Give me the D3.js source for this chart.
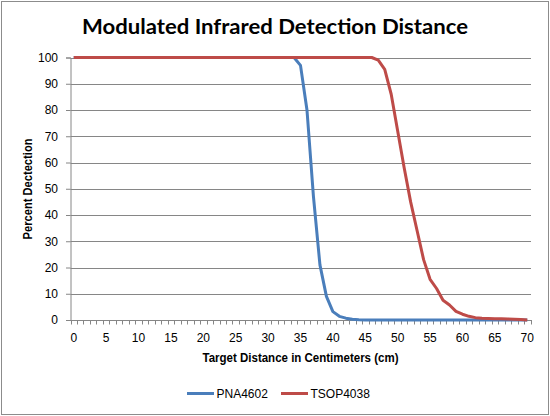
<!DOCTYPE html>
<html>
<head>
<meta charset="utf-8">
<script src="https://cdn.jsdelivr.net/npm/d3@7"></script>
<style>
  body { margin: 0; background: #fff; }
  svg { display: block; font-family: "Liberation Sans", Arial, sans-serif; }
</style>
</head>
<body>
<svg id="chart" width="550" height="416"></svg>
<script>
// distance in cm (category axis)
var distance = [0,1,2,3,4,5,6,7,8,9,10,11,12,13,14,15,16,17,18,19,20,21,22,23,24,25,26,27,28,29,
  30,31,32,33,34,35,36,37,38,39,40,41,42,43,44,45,46,47,48,49,50,51,52,53,54,55,56,57,58,59,
  60,61,62,63,64,65,66,67,68,69,70];

var pna4602 = [100,100,100,100,100,100,100,100,100,100,100,100,100,100,100,100,100,100,100,100,
  100,100,100,100,100,100,100,100,100,100,100,100,100,100,100,97,80,47,21,9,
  3.2,1.4,0.7,0.3,0.1,0,0,0,0,0,0,0,0,0,0,0,0,0,0,0,
  0,0,0,0,0,0,0,0,0,0,0];

var tsop4038 = [100,100,100,100,100,100,100,100,100,100,100,100,100,100,100,100,100,100,100,100,
  100,100,100,100,100,100,100,100,100,100,100,100,100,100,100,100,100,100,100,100,
  100,100,100,100,100,100,100,99,95.5,86,72,58,45,34,23,15.5,12,7.5,5.7,3.3,
  2.2,1.4,0.9,0.7,0.6,0.5,0.5,0.4,0.3,0.2,0];

var seriesNames = ["PNA4602", "TSOP4038"];
var seriesColors = {"PNA4602": "#4a7ebb", "TSOP4038": "#be4b48"};
var yTicks = [0,10,20,30,40,50,60,70,80,90,100];
var xLabels = [0,5,10,15,20,25,30,35,40,45,50,55,60,65,70];

var gridColor = "#868686";
var plotLeft = 70.5, plotRight = 530.5, plotTop = 57.5, plotBottom = 320;

var svg = d3.select("#chart");

// outer chart border
svg.append("rect").attr("x", 1.5).attr("y", 1.5).attr("width", 547).attr("height", 413)
  .style("fill", "white").style("stroke", "#8c8c8c");

svg.append("text").text("Modulated Infrared Detection Distance")
  .attr("x", 275).attr("y", 34).attr("text-anchor", "middle")
  .style("font-family", "Lato, 'Liberation Sans', sans-serif")
  .style("font-weight", "bold").style("font-size", "21px")
  .attr("textLength", 386).attr("lengthAdjust", "spacingAndGlyphs");

var xBand = d3.scaleBand().domain(distance).range([plotLeft, plotRight]);
var x = function (d) { return xBand(d) + xBand.bandwidth() / 2; };
var y = d3.scaleLinear().domain([0, 100]).range([plotBottom, plotTop]);

// gridlines
svg.append("g").selectAll("line").data(yTicks.filter(function (d) { return d > 0; }))
  .enter().append("line")
  .attr("x1", plotLeft).attr("x2", plotRight + 0.5)
  .attr("y1", function (d) { return Math.round(y(d)) + 0.5; })
  .attr("y2", function (d) { return Math.round(y(d)) + 0.5; })
  .style("stroke", gridColor);

// y axis
var yAxis = svg.append("g").attr("transform", "translate(" + plotLeft + ",0)")
  .call(d3.axisLeft(y).tickValues(yTicks).tickSize(4.5).tickPadding(8));
yAxis.select(".domain").style("stroke", gridColor);
yAxis.selectAll(".tick line").style("stroke", gridColor);
yAxis.selectAll(".tick text").style("font-size", "12px").style("fill", "#000")
  .style("font-family", "'Liberation Sans', Arial, sans-serif");

// x axis: minor ticks on category boundaries
var bounds = distance.map(function (d) { return xBand(d); }).concat([plotRight]);
svg.append("g").selectAll("line").data(bounds).enter().append("line")
  .attr("x1", function (d) { return Math.round(d) + 0.5; })
  .attr("x2", function (d) { return Math.round(d) + 0.5; })
  .attr("y1", plotBottom).attr("y2", plotBottom + 4.5)
  .style("stroke", gridColor);

var xAxis = svg.append("g").attr("transform", "translate(0," + plotBottom + ")")
  .call(d3.axisBottom(xBand).tickValues(xLabels).tickSize(0).tickPadding(13.5));
xAxis.select(".domain").remove();
xAxis.selectAll(".tick text").style("font-size", "12px").style("fill", "#000")
  .style("font-family", "'Liberation Sans', Arial, sans-serif");

svg.append("line").attr("x1", plotLeft).attr("x2", plotRight + 0.5)
  .attr("y1", plotBottom + 0.5).attr("y2", plotBottom + 0.5).style("stroke", gridColor);

// axis titles
svg.append("text").text("Target Distance in Centimeters (cm)")
  .attr("x", 300.5).attr("y", 361.5).attr("text-anchor", "middle")
  .style("font-weight", "bold").style("font-size", "12px")
  .attr("textLength", 196).attr("lengthAdjust", "spacingAndGlyphs");

svg.append("text").text("Percent Dectection")
  .attr("transform", "translate(31.5,189) rotate(-90)").attr("text-anchor", "middle")
  .style("font-weight", "bold").style("font-size", "12px")
  .attr("textLength", 101).attr("lengthAdjust", "spacingAndGlyphs");

// series lines
var line = d3.line()
  .x(function (d, i) { return x(distance[i]); })
  .y(function (d) { return y(d); });

var seriesData = {"PNA4602": pna4602, "TSOP4038": tsop4038};
seriesNames.forEach(function (name) {
  svg.append("path").datum(seriesData[name])
    .attr("d", line)
    .style("fill", "none")
    .style("stroke", seriesColors[name])
    .style("stroke-width", 3)
    .style("stroke-linejoin", "round");
});

// legend
var legendX = [187, 281];
var legend = svg.selectAll(".legend").data(seriesNames).enter().append("g")
  .attr("transform", function (d, i) { return "translate(" + legendX[i] + ",393.5)"; });
legend.append("line").attr("x1", 0).attr("x2", 27).attr("y1", 0).attr("y2", 0)
  .style("stroke", function (d) { return seriesColors[d]; })
  .style("stroke-width", 3);
legend.append("text").text(function (d) { return d; })
  .attr("x", 29.5).attr("y", 4.3).style("font-size", "12px");
</script>
</body>
</html>
